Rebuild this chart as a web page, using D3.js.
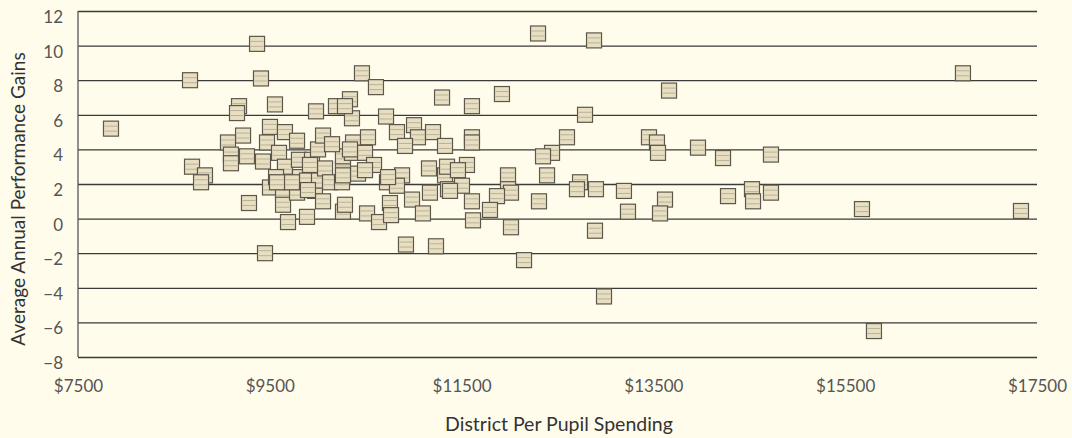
<!DOCTYPE html>
<html>
<head>
<meta charset="utf-8">
<script src="https://cdn.jsdelivr.net/npm/d3@7"></script>
<style>
  html, body { margin: 0; padding: 0; background: #fffceb; }
  #chart { width: 1072px; height: 438px; }
  text { font-family: Lato, "Open Sans", sans-serif; }
</style>
</head>
<body>
<div id="chart"></div>
<script>
// district spending ($) and average annual gains
var spending = [
  7844, 8668, 8689, 8824, 8783, 9367, 9408, 9450, 9283, 9179,
  9158, 9554, 9982, 9221, 9064, 9095, 9095, 9262, 9429, 9502,
  9471, 9658, 9784, 9596, 9658, 9804, 9940, 10003, 10055, 9502,
  9565, 9638, 9638, 9690, 9888, 9784, 9815, 9888, 9971, 10013,
  10055, 9731, 10076, 10128, 10253, 10263, 10263, 10263, 10284, 10190,
  10336, 10357, 10149, 10368, 10524, 10357, 10493, 10587, 10420, 10461,
  10607, 10712, 11004, 10826, 11045, 11202, 10910, 11327, 10722, 10879,
  10826, 10983, 10753, 11160, 11170, 11327, 11358, 10514, 10639, 10764,
  11097, 10920, 11233, 11296, 11921, 11608, 11608, 11608, 12599, 12443,
  12349, 11348, 11556, 11462, 11984, 12391, 11504, 11379, 11984, 12015,
  11869, 11608, 11796, 12307, 11619, 12015, 12151, 12297, 12881, 13663,
  12787, 13454, 13537, 13548, 13965, 12735, 12703, 12901, 13193, 13621,
  13235, 13569, 12891, 12985, 16728, 14226, 14726, 14278, 14528, 14539,
  14726, 15675, 17333, 15800, 10733, 10493, 9919, 9575, 9898, 10336,
  10284, 10263
];
var gains = [
  5.2, 8.0, 3.0, 2.5, 2.1, 10.1, 8.1, -2.0, 0.9, 6.5,
  6.1, 6.6, 6.2, 4.8, 4.4, 3.7, 3.2, 3.6, 3.3, 5.3,
  4.4, 5.0, 4.5, 3.8, 3.0, 3.4, 3.4, 4.0, 4.8, 1.8,
  2.4, 1.5, 0.8, -0.2, 0.1, 1.5, 2.4, 2.2, 1.6, 2.2,
  1.0, 2.1, 2.9, 2.1, 2.1, 2.9, 3.6, 0.4, 0.8, 6.5,
  6.9, 5.8, 4.3, 4.4, 4.7, 3.8, 3.8, 3.1, 2.6, 8.4,
  7.6, 5.9, 5.4, 5.0, 4.7, 5.0, 4.2, 4.2, 2.1, 2.5,
  1.9, 1.1, 0.9, 2.9, 1.5, 2.5, 1.7, 0.3, -0.2, 0.2,
  0.3, -1.5, -1.6, 7.0, 7.2, 6.5, 4.7, 4.4, 4.7, 3.8,
  3.6, 3.0, 3.1, 2.8, 2.5, 2.5, 1.9, 1.6, 1.7, 1.5,
  1.3, 1.0, 0.5, 1.0, -0.1, -0.5, -2.4, 10.7, 10.3, 7.4,
  6.0, 4.7, 4.4, 3.8, 4.1, 2.1, 1.7, 1.7, 1.6, 1.1,
  0.4, 0.3, -0.7, -4.5, 8.4, 3.5, 3.7, 1.3, 1.7, 1.0,
  1.5, 0.55, 0.44, -6.5, 2.4, 2.8, 3.1, 2.1, 1.65, 4.0,
  6.5, 2.5
];

var xTicks = [7500, 9500, 11500, 13500, 15500, 17500];
var yTicks = [-8, -6, -4, -2, 0, 2, 4, 6, 8, 10, 12];

var margin = {top: 11, right: 35, bottom: 81, left: 78},
    width = 1072 - margin.left - margin.right,
    height = 438 - margin.top - margin.bottom;

var svg = d3.select("#chart")
            .append("svg")
              .attr("width", 1072)
              .attr("height", 438);

var chart = svg.append("g")
               .attr("transform", "translate(" + margin.left + "," + margin.top + ")");

var x = d3.scaleLinear().domain([7500, 17500]).range([0, width]);
var y = d3.scaleLinear().domain([-8, 12]).range([height, 0]);

// horizontal grid lines
chart.append("g")
  .attr("class", "grid")
  .call(d3.axisLeft(y).tickValues(yTicks).tickSize(-width).tickFormat(""))
  .call(function(g) {
    g.select(".domain").remove();
    g.selectAll("line").attr("stroke", "#3a3a3a").attr("stroke-width", 1.3);
  });

// left axis line
chart.append("line")
  .attr("x1", 0).attr("x2", 0)
  .attr("y1", 0).attr("y2", height)
  .attr("stroke", "#555").attr("stroke-width", 1.3);

// y tick labels
chart.append("g")
  .call(d3.axisLeft(y).tickValues(yTicks).tickSize(0).tickPadding(15))
  .call(function(g) {
    g.select(".domain").remove();
    g.selectAll("text")
      .attr("dy", "0.68em")
      .attr("fill", "#555")
      .style("font-size", "17px");
  });

// x tick labels
chart.append("g")
  .attr("transform", "translate(0," + height + ")")
  .call(d3.axisBottom(x).tickValues(xTicks).tickSize(0).tickPadding(23)
          .tickFormat(function(d) { return "$" + d; }))
  .call(function(g) {
    g.select(".domain").remove();
    g.selectAll("text")
      .attr("fill", "#555")
      .style("font-size", "17px");
  });

// axis titles
svg.append("text")
  .attr("x", 559)
  .attr("y", 431)
  .attr("text-anchor", "middle")
  .attr("fill", "#333")
  .style("font-size", "19.5px")
  .text("District Per Pupil Spending");

svg.append("text")
  .attr("transform", "translate(25,199) rotate(-90)")
  .attr("text-anchor", "middle")
  .attr("fill", "#333")
  .style("font-size", "19px")
  .text("Average Annual Performance Gains");

// markers
var size = 15;
var points = spending.map(function(d, i) { return {spend: d, gain: gains[i]}; });

var marks = chart.selectAll(".mark")
  .data(points)
  .enter().append("g")
    .attr("class", "mark")
    .attr("transform", function(d) {
      return "translate(" + x(d.spend) + "," + y(d.gain) + ")";
    });

marks.append("rect")
  .attr("x", -size / 2)
  .attr("y", -size / 2)
  .attr("width", size)
  .attr("height", size)
  .attr("fill", "#e8dfc2")
  .attr("stroke", "#5c574b")
  .attr("stroke-width", 1.2);

marks.selectAll(".stripe")
  .data([-2.5, 2.5])
  .enter().append("line")
    .attr("class", "stripe")
    .attr("x1", -size / 2 + 1).attr("x2", size / 2 - 1)
    .attr("y1", function(d) { return d; })
    .attr("y2", function(d) { return d; })
    .attr("stroke", "#b9b199")
    .attr("stroke-width", 1);
</script>
</body>
</html>
